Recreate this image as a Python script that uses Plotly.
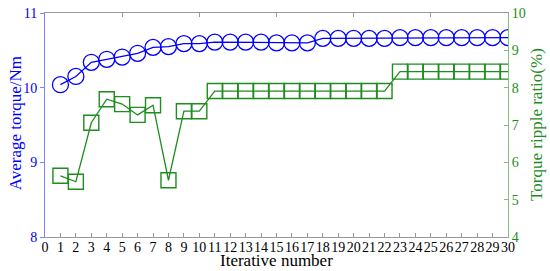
import plotly.graph_objects as go

# iteration number
iterations = list(range(1, 31))

# average torque (Nm), left axis
avg_torque = [10.04, 10.15, 10.34, 10.38, 10.41, 10.46, 10.54, 10.55, 10.59, 10.59,
              10.61, 10.61, 10.61, 10.61, 10.60, 10.60, 10.60, 10.66, 10.66, 10.66,
              10.66, 10.66, 10.67, 10.67, 10.67, 10.67, 10.67, 10.67, 10.67, 10.67]

# torque ripple ratio (%), right axis
ripple = [5.64, 5.48, 7.06, 7.69, 7.56, 7.27, 7.53, 5.52, 7.37, 7.37,
          7.91, 7.91, 7.91, 7.91, 7.91, 7.91, 7.91, 7.91, 7.91, 7.91,
          7.91, 7.91, 8.43, 8.43, 8.43, 8.43, 8.43, 8.43, 8.43, 8.43]

x_ticks = list(range(0, 31))
top_ticks = [5, 10, 15, 20, 25]

font = "Liberation Serif"
blue = "#0000ff"
green = "#1e8c1e"

fig = go.Figure()

fig.add_trace(go.Scatter(
    x=iterations, y=avg_torque, mode="lines+markers",
    line=dict(color=blue, width=1.3),
    marker=dict(symbol="circle-open", size=16, color=blue, line=dict(width=1.3)),
    showlegend=False,
))

fig.add_trace(go.Scatter(
    x=iterations, y=ripple, mode="lines+markers", yaxis="y2",
    line=dict(color=green, width=1.3),
    marker=dict(symbol="square-open", size=15, color=green, line=dict(width=1.4)),
    showlegend=False,
))

# invisible trace so the top axis gets drawn
fig.add_trace(go.Scatter(x=[0, 30], y=[8, 8], xaxis="x2", mode="markers",
                         marker=dict(opacity=0), hoverinfo="skip", showlegend=False))

fig.update_layout(
    width=550, height=271,
    margin=dict(l=45, r=42, t=13, b=34, autoexpand=False),
    paper_bgcolor="white", plot_bgcolor="white",
    font=dict(family=font, size=14, color="black"),
    xaxis=dict(
        range=[0, 30], tickvals=x_ticks, ticktext=[str(v) for v in x_ticks],
        tickangle=0, ticks="inside", ticklen=4, tickcolor="#999999",
        showline=True, linecolor="#999999", linewidth=1,
        showgrid=False, zeroline=False, automargin=False,
        ticklabeloverflow="allow", ticklabelstandoff=-3,
        tickfont=dict(size=14, color="black"),
    ),
    xaxis2=dict(
        range=[0, 30], overlaying="x", side="top", anchor="y",
        tickvals=top_ticks, showticklabels=False,
        ticks="inside", ticklen=4, tickcolor="#999999",
        showline=True, linecolor="#999999", linewidth=1,
        showgrid=False, zeroline=False, automargin=False,
    ),
    yaxis=dict(
        range=[8, 11], tickvals=[8, 9, 10, 11],
        ticks="outside", ticklen=4, tickcolor="#8080ff",
        showline=True, linecolor="#8080ff", linewidth=1,
        showgrid=False, zeroline=False, automargin=False,
        ticklabeloverflow="allow",
        tickfont=dict(size=14, color=blue),
    ),
    yaxis2=dict(
        range=[4, 10], tickvals=[4, 5, 6, 7, 8, 9, 10],
        overlaying="y", side="right", anchor="x",
        ticks="inside", ticklen=4, tickcolor="#80c080",
        showline=True, linecolor="#80c080", linewidth=1,
        showgrid=False, zeroline=False, automargin=False,
        ticklabeloverflow="allow",
        tickfont=dict(size=14, color=green),
    ),
    annotations=[
        dict(text="Iterative number", xref="paper", yref="paper", x=0.5, y=-0.103,
             xanchor="center", yanchor="middle", showarrow=False,
             font=dict(size=17, color="black")),
        dict(text="Average torque/Nm", xref="paper", yref="paper", x=-0.063, y=0.507,
             xanchor="center", yanchor="middle", textangle=-90, showarrow=False,
             font=dict(size=17, color=blue)),
        dict(text="Torque ripple ratio(%)", xref="paper", yref="paper", x=1.06, y=0.504,
             xanchor="center", yanchor="middle", textangle=-90, showarrow=False,
             font=dict(size=17, color=green)),
    ],
)

# drop the default 8px body margin so the figure sits at the page corner
fig.write_html("out.html", config={"displayModeBar": False},
               post_script="document.body.style.margin = '0px';")
